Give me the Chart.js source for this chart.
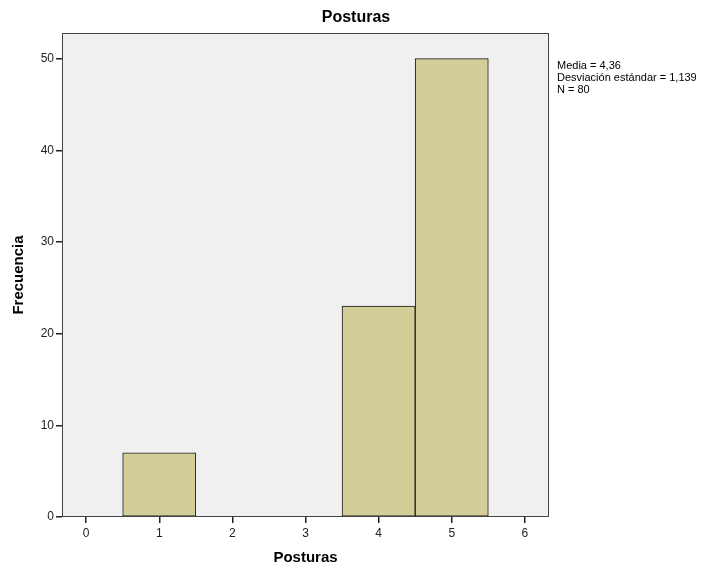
<!DOCTYPE html>
<html>
<head>
<meta charset="utf-8">
<script src="https://cdn.jsdelivr.net/npm/chart.js@4/dist/chart.umd.min.js"></script>
<style>
  body { margin: 0; background: #fff; }
  #wrap { width: 723px; height: 571px; }
</style>
</head>
<body>
<div id="wrap"><canvas id="grafico"></canvas></div>
<script>
// datos del histograma
const categorias = [1, 2, 3, 4, 5];
const frecuencias = [7, 0, 0, 23, 50];
const ticksX = [0, 1, 2, 3, 4, 5, 6];
const ticksY = [0, 10, 20, 30, 40, 50];
const titulo = "Posturas";
const notas = ["Media = 4,36", "Desviación estándar = 1,139", "N = 80"];

const fuente = "'Liberation Sans', Arial, sans-serif";

// fondo gris, borde y textos extra
const extras = {
  id: "extras",
  beforeDatasetsDraw(chart) {
    const { ctx, chartArea: a } = chart;
    ctx.save();
    ctx.fillStyle = "#f0f0f0";
    ctx.fillRect(a.left, a.top, a.right - a.left, a.bottom - a.top);
    ctx.restore();
  },
  afterDraw(chart) {
    const { ctx, chartArea: a } = chart;
    ctx.save();
    ctx.strokeStyle = "#444";
    ctx.lineWidth = 1;
    ctx.strokeRect(a.left + 0.5, a.top + 0.5, a.right - a.left - 1, a.bottom - a.top - 1);
    ctx.fillStyle = "#000";
    ctx.font = "bold 16px " + fuente;
    ctx.textAlign = "center";
    ctx.textBaseline = "middle";
    ctx.fillText(titulo, 356, 18);
    ctx.font = "11px " + fuente;
    ctx.textAlign = "left";
    notas.forEach((t, i) => ctx.fillText(t, a.right + 8, 66 + i * 12));
    ctx.restore();
  }
};

const ctx = document.getElementById("grafico").getContext("2d");
new Chart(ctx, {
  type: "bar",
  data: {
    datasets: [{
      data: categorias.map((c, i) => ({ x: c, y: frecuencias[i] })),
      backgroundColor: "#d3ce98",
      borderColor: "#1a1a1a",
      borderWidth: 1,
      borderSkipped: false,
      barPercentage: 1,
      categoryPercentage: 1
    }]
  },
  options: {
    responsive: true,
    maintainAspectRatio: false,
    animation: false,
    layout: { padding: { top: 33, right: 174, left: 0, bottom: 0 } },
    plugins: { legend: { display: false }, tooltip: { enabled: false } },
    scales: {
      x: {
        type: "linear",
        min: -0.33,
        max: 6.33,
        offset: false,
        afterBuildTicks: s => { s.ticks = ticksX.map(v => ({ value: v })); },
        afterFit: s => { s.height = 54; },
        grid: { offset: false, drawOnChartArea: false, drawTicks: true, tickLength: 6, color: "#222", lineWidth: 1.5 },
        border: { display: false },
        ticks: { color: "#222", font: { family: fuente, size: 12 }, padding: 3, maxRotation: 0 },
        title: { display: true, text: "Posturas", color: "#000", font: { family: fuente, size: 15, weight: "bold" }, padding: { top: 12 } }
      },
      y: {
        min: 0,
        max: 52.8,
        afterBuildTicks: s => { s.ticks = ticksY.map(v => ({ value: v })); },
        afterFit: s => { s.width = 62; },
        grid: { drawOnChartArea: false, drawTicks: true, tickLength: 6, color: "#222", lineWidth: 1.5 },
        border: { display: false },
        ticks: { color: "#222", font: { family: fuente, size: 12 }, padding: 2 },
        title: { display: true, text: "Frecuencia", color: "#000", font: { family: fuente, size: 15, weight: "bold" }, padding: { top: 10, bottom: 4 } }
      }
    }
  },
  plugins: [extras]
});
</script>
</body>
</html>
